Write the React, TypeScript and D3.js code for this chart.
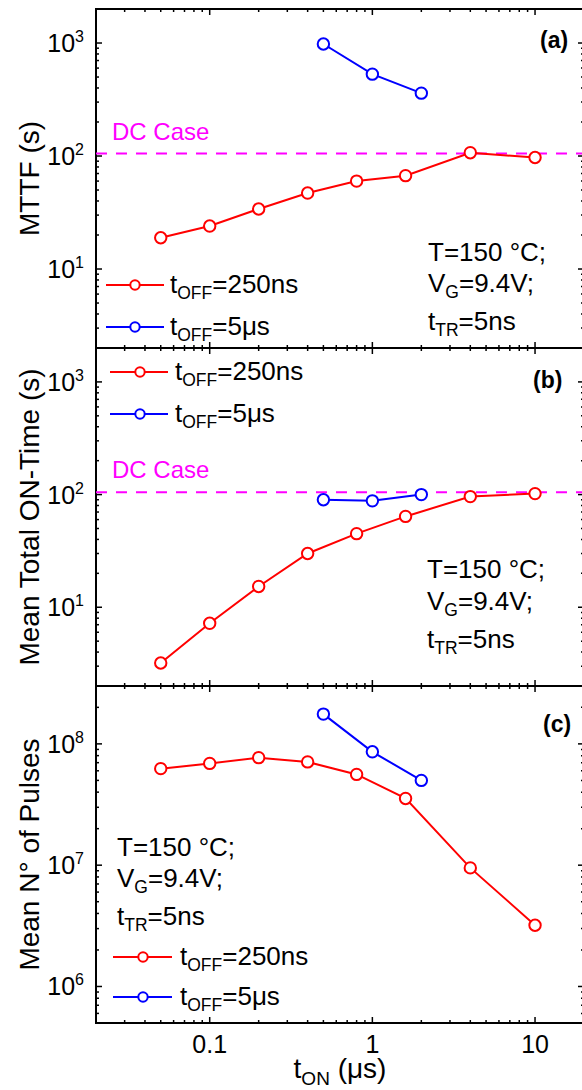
import React from 'react';
import * as d3 from 'd3';

// ---------- data ----------
const tOn250: number[] = [0.05, 0.1, 0.2, 0.4, 0.8, 1.6, 4, 10];
const tOn5: number[] = [0.5, 1, 2];

const mttf250: number[] = [18.9, 24, 34, 47, 60, 67, 107, 97];
const mttf5: number[] = [980, 530, 360];

const onTime250: number[] = [3.2, 7.2, 15.3, 30, 45, 64, 96, 102];
const onTime5: number[] = [90, 88, 100];

const pulses250: number[] = [6.25e7, 6.9e7, 7.7e7, 7.1e7, 5.6e7, 3.55e7, 9.5e6, 3.2e6];
const pulses5: number[] = [1.76e8, 8.6e7, 5.0e7];

const dcCaseValue = 105;
const xTickValues: number[] = [0.1, 1, 10];
const xTickLabels: string[] = ['0.1', '1', '10'];
const seriesLabels: string[] = ['=250ns', '=5\u03bcs'];
const annotationLines: [string, string, string][] = [
  ['T=150 \u00b0C;', '', ''],
  ['V', 'G', '=9.4V;'],
  ['t', 'TR', '=5ns'],
];

// ---------- layout ----------
const FF = "'Liberation Sans', Arial, Helvetica, sans-serif";
const W = 582;
const H = 1090;
const X0 = 96;
const X1 = 584;
const RED = '#ff0000';
const BLUE = '#0000ff';
const MAG = '#ff00ff';

const xScale = d3.scaleLog().domain([0.02, 20]).range([X0, X1]);

interface Panel {
  top: number;
  bottom: number;
  yDomain: [number, number];
  title: string;
  label: string;
  labelX: number;
  labelY: number;
  red: number[];
  blue: number[];
  dc: boolean;
  legend: { lx0: number; lx1: number; cx: number; tx: number; y1: number; y2: number };
  ann: { x: number; ys: number[] };
}

const panels: Panel[] = [
  {
    top: 9, bottom: 348, yDomain: [2, 2000], title: 'MTTF (s)', label: '(a)', labelX: 540, labelY: 48,
    red: mttf250, blue: mttf5, dc: true,
    legend: { lx0: 106, lx1: 164, cx: 135, tx: 170, y1: 285, y2: 327 },
    ann: { x: 428, ys: [261, 292, 330] },
  },
  {
    top: 348, bottom: 686, yDomain: [2, 2000], title: 'Mean Total ON-Time (s)', label: '(b)', labelX: 533, labelY: 388,
    red: onTime250, blue: onTime5, dc: true,
    legend: { lx0: 110, lx1: 168, cx: 140, tx: 175, y1: 372, y2: 414 },
    ann: { x: 427, ys: [578, 610, 648] },
  },
  {
    top: 686, bottom: 1023, yDomain: [5e5, 3e8], title: 'Mean N\u00b0 of Pulses', label: '(c)', labelX: 543, labelY: 732,
    red: pulses250, blue: pulses5, dc: false,
    legend: { lx0: 113, lx1: 172, cx: 143, tx: 180, y1: 957, y2: 997 },
    ann: { x: 117, ys: [856, 887, 925] },
  },
];

const isMajor = (v: number) => Math.abs(Math.log10(v) - Math.round(Math.log10(v))) < 1e-9;

function SubText(props: { x: number; y: number; a: string; sub: string; b: string; size: number; subSize: number; shift: number; anchor?: string }) {
  const { x, y, a, sub, b, size, subSize, shift, anchor } = props;
  return (
    <text x={x} y={y} fontFamily={FF} fontSize={size} fill="#000" textAnchor={anchor || 'start'}>
      <tspan>{a}</tspan>
      {sub ? <tspan fontSize={subSize} dy={shift}>{sub}</tspan> : null}
      {b ? <tspan dy={sub ? -shift : 0}>{b}</tspan> : null}
    </text>
  );
}

function PanelView({ p, last }: { p: Panel; last: boolean }) {
  const y = d3.scaleLog().domain(p.yDomain).range([p.bottom, p.top]);
  const line = d3.line<[number, number]>().x((d) => xScale(d[0])).y((d) => y(d[1]));
  const redPts: [number, number][] = tOn250.map((t, i) => [t, p.red[i]]);
  const bluePts: [number, number][] = tOn5.map((t, i) => [t, p.blue[i]]);
  const xt = xScale.ticks(20).filter((v) => v >= 0.02 && v <= 20);
  const yt = y.ticks(20).filter((v) => v >= p.yDomain[0] && v <= p.yDomain[1]);
  const midY = (p.top + p.bottom) / 2;
  const titleX = 38.5;
  return (
    <g>
      <rect x={X0} y={p.top} width={X1 - X0} height={p.bottom - p.top} fill="none" stroke="#000" strokeWidth={2} />
      {/* x ticks top & bottom */}
      {xt.map((v, i) => {
        const L = isMajor(v) ? 6 : 3;
        const xx = xScale(v);
        return (
          <g key={'xt' + i}>
            <line x1={xx} x2={xx} y1={p.bottom} y2={p.bottom - L} stroke="#000" strokeWidth={1.5} />
            <line x1={xx} x2={xx} y1={p.top} y2={p.top + L} stroke="#000" strokeWidth={1.5} />
          </g>
        );
      })}
      {/* y ticks left & right */}
      {yt.map((v, i) => {
        const L = isMajor(v) ? 6 : 3;
        const yy = y(v);
        return (
          <g key={'yt' + i}>
            <line x1={X0} x2={X0 + L} y1={yy} y2={yy} stroke="#000" strokeWidth={1.5} />
            <line x1={X1} x2={X1 - L} y1={yy} y2={yy} stroke="#000" strokeWidth={1.5} />
          </g>
        );
      })}
      {/* y tick labels */}
      {yt.filter(isMajor).map((v, i) => (
        <text key={'yl' + i} x={84} y={y(v) + 9} fontFamily={FF} fontSize={25} textAnchor="end" fill="#000">
          <tspan>10</tspan>
          <tspan fontSize={16} dy={-10}>{String(Math.round(Math.log10(v)))}</tspan>
        </text>
      ))}
      {/* y title */}
      <text transform={`translate(${titleX},${midY}) rotate(-90)`} fontFamily={FF} fontSize={28} textAnchor="middle" fill="#000">
        {p.title}
      </text>
      {/* DC case */}
      {p.dc ? (
        <g>
          <line x1={X0} x2={X1} y1={y(dcCaseValue)} y2={y(dcCaseValue)} stroke={MAG} strokeWidth={2} strokeDasharray="11,9" />
          <text x={112} y={y(dcCaseValue) - 14} fontFamily={FF} fontSize={24} fill={MAG}>DC Case</text>
        </g>
      ) : null}
      {/* data */}
      <path d={line(redPts) || ''} fill="none" stroke={RED} strokeWidth={2} />
      <path d={line(bluePts) || ''} fill="none" stroke={BLUE} strokeWidth={2} />
      {redPts.map((d, i) => (
        <circle key={'r' + i} cx={xScale(d[0])} cy={y(d[1])} r={5.7} fill="#fff" stroke={RED} strokeWidth={2} />
      ))}
      {bluePts.map((d, i) => (
        <circle key={'b' + i} cx={xScale(d[0])} cy={y(d[1])} r={5.7} fill="#fff" stroke={BLUE} strokeWidth={2} />
      ))}
      {/* legend */}
      {[RED, BLUE].map((c, i) => {
        const ly = i === 0 ? p.legend.y1 : p.legend.y2;
        return (
          <g key={'lg' + i}>
            <line x1={p.legend.lx0} x2={p.legend.lx1} y1={ly} y2={ly} stroke={c} strokeWidth={2} />
            <circle cx={p.legend.cx} cy={ly} r={4.7} fill="#fff" stroke={c} strokeWidth={2} />
            <SubText x={p.legend.tx} y={ly + 8} a="t" sub="OFF" b={seriesLabels[i]} size={26} subSize={17.5} shift={6} />
          </g>
        );
      })}
      {/* annotation */}
      {annotationLines.map((l, i) => (
        <SubText key={'an' + i} x={p.ann.x} y={p.ann.ys[i]} a={l[0]} sub={l[1]} b={l[2]} size={26} subSize={17.5} shift={6} />
      ))}
      {/* panel label */}
      <text x={p.labelX} y={p.labelY} fontFamily={FF} fontSize={23} fontWeight="bold" fill="#000">{p.label}</text>
      {/* x tick labels on last panel */}
      {last
        ? xTickValues.map((v, i) => (
            <text key={'xl' + i} x={xScale(v)} y={1053} fontFamily={FF} fontSize={25} textAnchor="middle" fill="#000">
              {xTickLabels[i]}
            </text>
          ))
        : null}
    </g>
  );
}

export default function App() {
  return (
    <svg
      width={W}
      height={H}
      viewBox={`0 0 ${W} ${H}`}
      style={{ position: 'absolute', left: 0, top: 0, display: 'block', background: '#fff' }}
    >
      <rect x={0} y={0} width={W} height={H} fill="#fff" />
      {panels.map((p, i) => (
        <PanelView key={i} p={p} last={i === panels.length - 1} />
      ))}
      <SubText x={340} y={1078} a="t" sub="ON" b={' (\u03bcs)'} size={28} subSize={19} shift={7} anchor="middle" />
    </svg>
  );
}
